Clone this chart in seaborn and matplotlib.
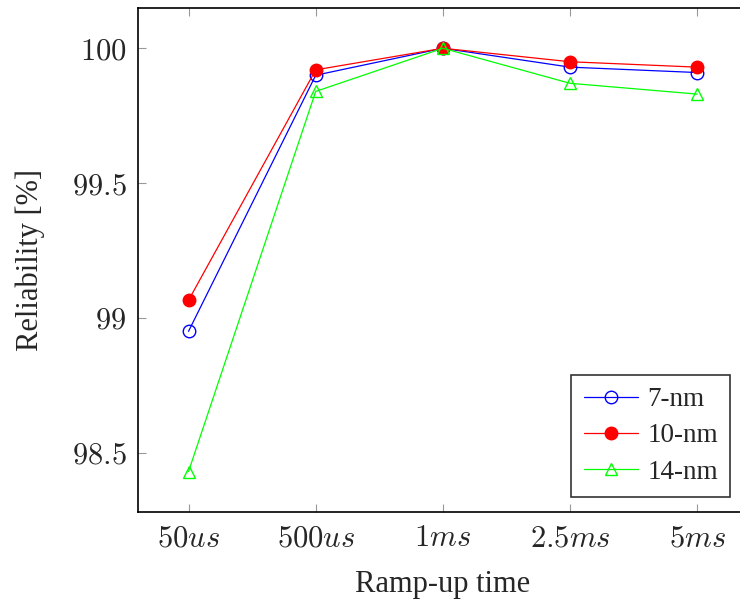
import matplotlib
matplotlib.use("Agg")
import matplotlib.pyplot as plt
import seaborn as sns
import pandas as pd

# Ramp-up times (x categories) and reliability per node
ramp_labels = ["$50us$", "$500us$", "$1ms$", "$2.5ms$", "$5ms$"]
rel_7nm = [98.95, 99.90, 100.0, 99.93, 99.91]
rel_10nm = [99.065, 99.92, 100.0, 99.95, 99.93]
rel_14nm = [98.43, 99.84, 100.0, 99.87, 99.83]

sns.set_style("ticks")
plt.rcParams["font.family"] = ["Liberation Serif", "DejaVu Serif"]
plt.rcParams["mathtext.fontset"] = "cm"

fig = plt.figure(figsize=(7.4, 6.03), dpi=100)
ax = fig.add_axes([0.186, 0.151, 0.825, 0.836])

styles = {
    "7-nm": dict(color="#0000ff", marker="o", mfc="none"),
    "10-nm": dict(color="#ff0000", marker="o", mfc="#ff0000"),
    "14-nm": dict(color="#00ff00", marker="^", mfc="none"),
}
series = {"7-nm": rel_7nm, "10-nm": rel_10nm, "14-nm": rel_14nm}

for name, vals in series.items():
    df = pd.DataFrame({"x": range(len(vals)), "y": vals})
    st = styles[name]
    sns.lineplot(data=df, x="x", y="y", ax=ax, color=st["color"], lw=0.9,
                 marker=st["marker"], ms=9, mfc=st["mfc"], mec=st["color"],
                 mew=1.0, label=name)

ax.set_xlim(-0.4, 4.4)
ax.set_ylim(98.28, 100.15)
ax.set_xticks(range(len(ramp_labels)))
ax.set_xticklabels(ramp_labels)
ax.set_yticks([98.5, 99, 99.5, 100])
ax.set_yticklabels(["$98.5$", "$99$", "$99.5$", "$100$"])
ax.tick_params(direction="in", length=6, width=0.8, color="#999999",
               top=True, right=True, labelsize=22)
ax.tick_params(axis="x", pad=9)
ax.tick_params(axis="y", pad=8)
for sp in ax.spines.values():
    sp.set_linewidth(1.2)
    sp.set_color("black")

ax.set_xlabel("Ramp-up time", fontsize=22, labelpad=12)
ax.set_ylabel("Reliability [%]", fontsize=22, labelpad=19)

leg = ax.legend(loc="lower right", bbox_to_anchor=(730 / 740, 1 - 497 / 603),
                bbox_transform=fig.transFigure, borderaxespad=0, fontsize=19.5,
                frameon=True, fancybox=False, edgecolor="black",
                handlelength=2.0, handletextpad=0.35, borderpad=0.45,
                labelspacing=0.42)
leg.get_frame().set_linewidth(1.2)

fig.savefig("out.png", dpi=100)
